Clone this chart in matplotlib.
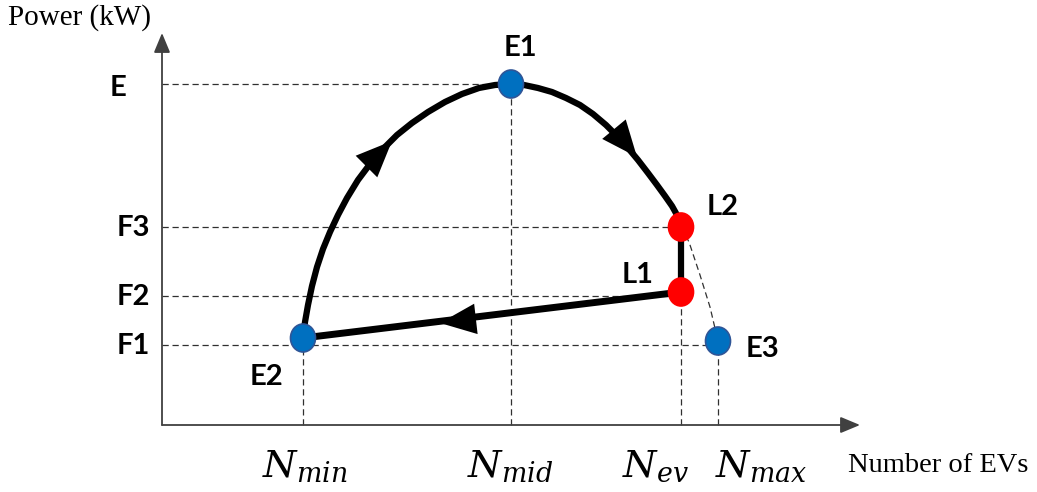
import matplotlib
matplotlib.use("Agg")
import matplotlib.pyplot as plt
from matplotlib.patches import Ellipse

plt.rcParams['mathtext.fontset'] = 'dejavuserif'

# x positions (number of EVs) and power levels, schematic units
x_names = ['$N_{min}$', '$N_{mid}$', '$N_{ev}$', '$N_{max}$']
x_vals = [141, 349, 519, 556]
y_names = ['E', 'F3', 'F2', 'F1']
y_vals = [341, 198, 129, 80]

# operating points
pt_names = ['E1', 'E2', 'E3', 'L1', 'L2']
pt_x = [349, 141, 556, 519, 519]
pt_y = [341, 87, 84, 133, 198]
pt_col = ['#0070C0', '#0070C0', '#0070C0', '#FF0000', '#FF0000']

# thick curve E2 -> E1 -> L2
curve_x = [141, 143, 146, 150, 155, 161, 168, 176, 185, 196, 208, 221,
           235, 250, 266, 283, 300, 317, 333, 349,
           362, 376, 390, 404, 418, 431, 444, 456, 466, 476, 486, 495,
           503, 510, 515, 519]
curve_y = [87, 103, 120, 139, 158, 176, 193, 210, 227, 245, 261, 276,
           290, 302, 313, 323, 331, 337, 340, 341,
           340, 337, 333, 327, 320, 311, 300, 288, 277, 265, 252, 240,
           229, 219, 210, 198]

# thin dashed continuation L2 -> E3
ext_x = [519, 527, 538, 548, 556]
ext_y = [198, 183, 150, 118, 84]

fig = plt.figure(figsize=(10.37, 4.92), dpi=100)
ax = fig.add_axes([0, 0, 1, 1])
ax.set_xlim(-162, 875)
ax.set_ylim(-67, 425)
ax.axis('off')

dash = dict(color='#303030', lw=0.9, ls=(0, (5, 3)), zorder=1)

# guide lines to the axes
ax.plot([0, pt_x[0]], [y_vals[0], y_vals[0]], **dash)
ax.plot([0, pt_x[4]], [y_vals[1], y_vals[1]], **dash)
ax.plot([0, pt_x[3]], [y_vals[2], y_vals[2]], **dash)
ax.plot([0, pt_x[2]], [y_vals[3], y_vals[3]], **dash)
ax.plot([x_vals[0], x_vals[0]], [0, pt_y[1]], **dash)
ax.plot([x_vals[1], x_vals[1]], [0, pt_y[0]], **dash)
ax.plot([x_vals[2], x_vals[2]], [0, pt_y[3]], **dash)
ax.plot([x_vals[3], x_vals[3]], [0, pt_y[2]], **dash)
ax.plot(ext_x, ext_y, **dash)

# axes with arrow heads
axis_arrow = dict(arrowstyle='-|>,head_length=12,head_width=5', color='#404040',
                  lw=1.3, mutation_scale=1, shrinkA=0, shrinkB=0)
ax.annotate('', xy=(0, 392), xytext=(0, 0), arrowprops=axis_arrow)
ax.annotate('', xy=(698, 0), xytext=(0, 0), arrowprops=axis_arrow)

# thick path
ax.plot(curve_x, curve_y, color='black', lw=4.5, solid_capstyle='round',
        solid_joinstyle='round', zorder=3)
ax.plot([pt_x[4], pt_x[3]], [pt_y[4], pt_y[3]], color='black', lw=4.5, zorder=3)
ax.plot([pt_x[3], pt_x[1]], [pt_y[3], pt_y[1]], color='black', lw=5, zorder=3)

# direction arrows on the path
head = dict(arrowstyle='-|>,head_length=26,head_width=11', color='black',
            lw=0, mutation_scale=1, shrinkA=0, shrinkB=0)
ax.annotate('', xy=(230, 284), xytext=(203, 257), arrowprops=head, zorder=4)
ax.annotate('', xy=(475, 268), xytext=(451, 297), arrowprops=head, zorder=4)
ax.annotate('', xy=(278, 102), xytext=(313, 106), arrowprops=head, zorder=4)

# points
for x, y, c in zip(pt_x, pt_y, pt_col):
    ec = '#2F5597' if c == '#0070C0' else c
    ax.add_patch(Ellipse((x, y), 25, 28, facecolor=c, edgecolor=ec, lw=1.2, zorder=5))

# labels
lab = dict(fontfamily='Lato', fontweight='bold', fontsize=21, va='center', ha='center')
ax.text(-44, 337, y_names[0], **lab)
for name, y in zip(y_names[1:], y_vals[1:]):
    ax.text(-29, y - 1, name, **lab)
pt_lab = [(358, 377), (104, 48), (601, 76), (476, 150), (561, 218)]
for name, (x, y) in zip(pt_names, pt_lab):
    ax.text(x, y, name, **lab)

lab_left = [262, 467, 622, 715]
for name, x in zip(x_names, lab_left):
    ax.text(x - 162, -52, name, fontsize=27.5, ha='left', va='baseline')

ax.text(-154, 407, 'Power (kW)', fontfamily='Liberation Serif', fontsize=21,
        ha='left', va='center')
ax.text(686, -40, 'Number of EVs', fontfamily='Liberation Serif', fontsize=20.5,
        ha='left', va='center')

fig.savefig('out.png', dpi=100)
